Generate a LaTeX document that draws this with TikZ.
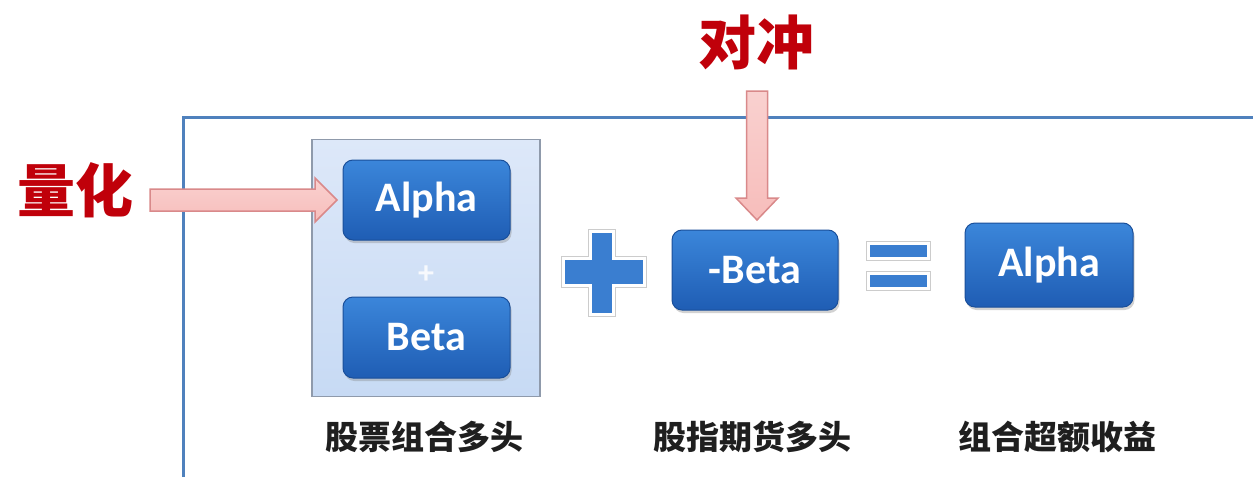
\documentclass[tikz,border=0pt]{standalone}
\usepackage{fontspec}
\setmainfont{Carlito}
\newfontfamily\cjk{Noto Sans CJK SC}
\usetikzlibrary{calc,shadows}
\definecolor{framec}{HTML}{4F81BD}
\definecolor{redt}{HTML}{C0000A}
\definecolor{pinkf}{HTML}{F7BDBB}
\definecolor{pinkd}{HTML}{D9898A}
\definecolor{boxtop}{HTML}{3B86DA}
\definecolor{boxbot}{HTML}{1F5DB4}
\definecolor{boxedge}{HTML}{1A4F9A}
\definecolor{opblue}{HTML}{3A7ED0}
\definecolor{grptop}{HTML}{DDE8F9}
\definecolor{grpbot}{HTML}{C7DAF4}
\definecolor{grpedge}{HTML}{8F9AAB}
\tikzset{
  bluebox/.style={rounded corners=10pt, top color=boxtop, bottom color=boxbot,
    draw=boxedge, line width=1pt, text=white, inner sep=0pt,
    font=\fontsize{42}{42}\selectfont\bfseries,
    drop shadow={shadow xshift=1.5pt, shadow yshift=-3pt, opacity=0.35}},
  groupbox/.style={top color=grptop, bottom color=grpbot, draw=grpedge, line width=1.5pt, inner sep=0pt},
  bigred/.style={text=redt, font=\cjk\bfseries\fontsize{58}{58}\selectfont, inner sep=0pt},
  caption/.style={text=black!88, font=\cjk\bfseries\fontsize{33}{33}\selectfont, inner sep=0pt},
  blockarrow/.style={top color=pinkf!70!white, bottom color=pinkf, draw=pinkd, line width=1.5pt, line join=miter},
  opshape/.style={fill=opblue, draw=white, line width=3pt, line join=miter},
  opedge/.style={draw=black!20, line width=5pt, line join=miter},
}
\begin{document}
\begin{tikzpicture}[x=1pt,y=-1pt]
\useasboundingbox (0,0) rectangle (1253,477);
\fill[white] (0,0) rectangle (1253,477);
% frame
\draw[framec, line width=3pt] (183,477) -- (183,117) -- (1253,117);
% group box
\node[groupbox, minimum width=228pt, minimum height=257pt] (grp) at (426,268) {};
\node[bluebox, minimum width=167pt, minimum height=80pt] (alpha1) at (426.5,200) {Alpha};
\node[text=white!85!grpbot, font=\fontsize{32}{32}\selectfont\bfseries, inner sep=0pt] (plus1) at (426,275) {+};
\node[bluebox, minimum width=167pt, minimum height=81pt] (beta) at (426.5,337.5) {Beta};
\node[bluebox, minimum width=166pt, minimum height=80pt] (mbeta) at (755,270) {-Beta};
\node[bluebox, minimum width=168pt, minimum height=84pt] (alpha2) at (1049,265) {Alpha};
% big plus
\coordinate (pc) at (601.5,271.5);
\foreach \s in {opedge, opshape}{
\path[\s] ($(pc)+(-38,-13.5)$) -- ($(pc)+(-11.5,-13.5)$) -- ($(pc)+(-11.5,-40)$) -- ($(pc)+(11.5,-40)$) -- ($(pc)+(11.5,-13.5)$) -- ($(pc)+(43,-13.5)$) -- ($(pc)+(43,13.5)$) -- ($(pc)+(11.5,13.5)$) -- ($(pc)+(11.5,43)$) -- ($(pc)+(-11.5,43)$) -- ($(pc)+(-11.5,13.5)$) -- ($(pc)+(-38,13.5)$) -- cycle;}
% equals
\coordinate (ec) at (898,265.5);
\foreach \s in {opedge, opshape}{
\path[\s] ($(ec)+(-30,-22.5)$) rectangle ($(ec)+(30,-7.5)$);
\path[\s] ($(ec)+(-30,7.5)$) rectangle ($(ec)+(30,22.5)$);}
% captions
\node[caption] (c1) at (424,437) {股票组合多头};
\node[caption] (c2) at (752,437) {股指期货多头};
\node[caption] (c3) at (1057,437) {组合超额收益};
% red labels
\node[bigred] (lh) at (75,190) {量化};
\node[bigred] (dc) at (756,42) {对冲};
% arrows
\coordinate (q1) at (150,200);
\coordinate (q2) at (337,200);
\draw[blockarrow] ($(q1)+(0,-11)$) -- ($(q2)+(-22,-11)$) -- ($(q2)+(-22,-22)$) -- (q2) -- ($(q2)+(-22,22)$) -- ($(q2)+(-22,11)$) -- ($(q1)+(0,11)$) -- cycle;
\coordinate (d1) at (757,91);
\coordinate (d2) at (757,220);
\draw[blockarrow] ($(d1)+(-10.5,0)$) -- ($(d2)+(-10.5,-22)$) -- ($(d2)+(-21,-22)$) -- (d2) -- ($(d2)+(21,-22)$) -- ($(d2)+(10.5,-22)$) -- ($(d1)+(10.5,0)$) -- cycle;
\end{tikzpicture}
\end{document}
